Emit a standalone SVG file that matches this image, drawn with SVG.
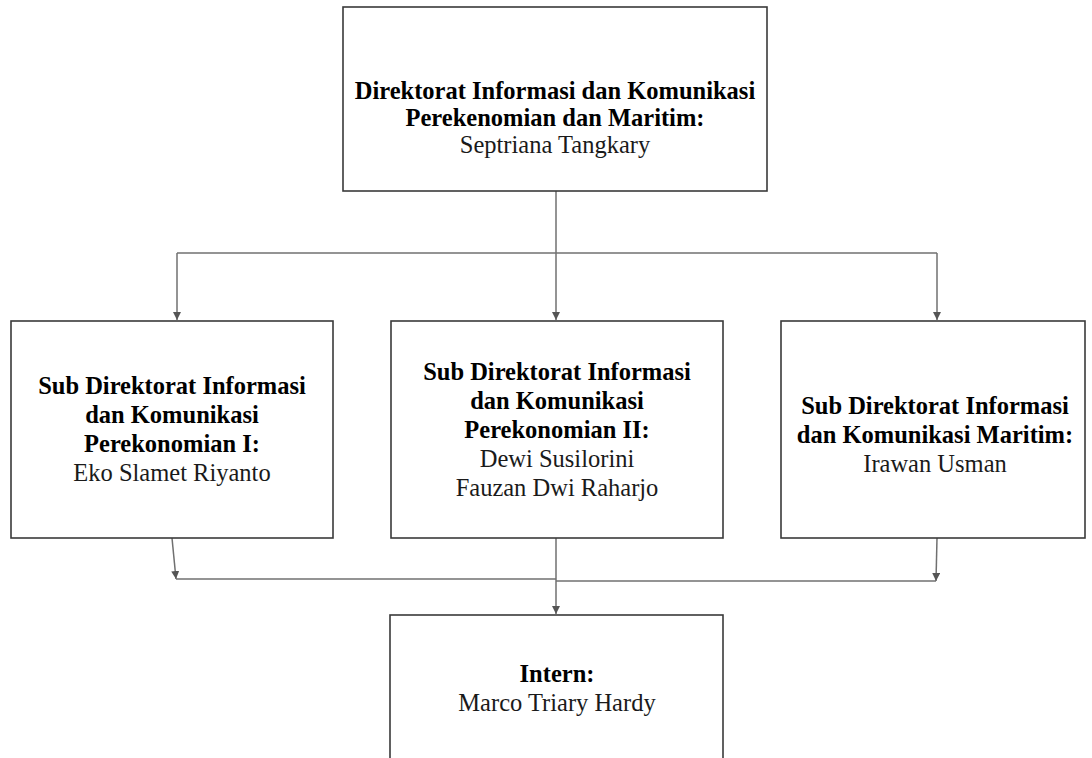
<svg xmlns="http://www.w3.org/2000/svg" width="1092" height="758" viewBox="0 0 1092 758">
<style>
.box{fill:#fff;stroke:#3a3a3a;stroke-width:1.6}
.con{fill:none;stroke:#707070;stroke-width:1.5}
text{font-family:"Liberation Serif","Times New Roman",serif;font-size:24.5px;text-anchor:middle;fill:#1a1a1a}
.b{font-weight:bold;fill:#000}
</style>
<defs>
<marker id="ah" viewBox="0 0 10 10" refX="10" refY="5" markerWidth="8" markerHeight="8" markerUnits="userSpaceOnUse" orient="auto">
<path d="M0,0 L10,5 L0,10 z" fill="#555"/>
</marker>
</defs>
<rect width="1092" height="758" fill="#fff"/>
<g id="connectors">
<path class="con" d="M556,191 V320" marker-end="url(#ah)"/>
<path class="con" d="M177,253 H937"/>
<path class="con" d="M177,253 V320" marker-end="url(#ah)"/>
<path class="con" d="M937,253 V320" marker-end="url(#ah)"/>
<path class="con" d="M172,538 L176,579" marker-end="url(#ah)"/>
<path class="con" d="M176,579 H556"/>
<path class="con" d="M556,581 H936"/>
<path class="con" d="M937,538 L936,581" marker-end="url(#ah)"/>
<path class="con" d="M556,538 V614" marker-end="url(#ah)"/>
</g>
<g id="node-direktorat">
<rect class="box" x="343" y="7" width="424" height="184"/>
<text class="b" x="555" y="99">Direktorat Informasi dan Komunikasi</text>
<text class="b" x="555" y="126">Perekenomian dan Maritim:</text>
<text x="555" y="153">Septriana Tangkary</text>
</g>
<g id="node-sub1">
<rect class="box" x="11" y="321" width="322" height="217"/>
<text class="b" x="172" y="394">Sub Direktorat Informasi</text>
<text class="b" x="172" y="423">dan Komunikasi</text>
<text class="b" x="172" y="452">Perekonomian I:</text>
<text x="172" y="481">Eko Slamet Riyanto</text>
</g>
<g id="node-sub2">
<rect class="box" x="391" y="321" width="332" height="217"/>
<text class="b" x="557" y="380">Sub Direktorat Informasi</text>
<text class="b" x="557" y="409">dan Komunikasi</text>
<text class="b" x="557" y="438">Perekonomian II:</text>
<text x="557" y="467">Dewi Susilorini</text>
<text x="557" y="496">Fauzan Dwi Raharjo</text>
</g>
<g id="node-sub3">
<rect class="box" x="781" y="321" width="304" height="217"/>
<text class="b" x="935" y="414">Sub Direktorat Informasi</text>
<text class="b" x="935" y="443">dan Komunikasi Maritim:</text>
<text x="935" y="472">Irawan Usman</text>
</g>
<g id="node-intern">
<rect class="box" x="390" y="615" width="333" height="160"/>
<text class="b" x="557" y="682">Intern:</text>
<text x="557" y="711">Marco Triary Hardy</text>
</g>
</svg>
